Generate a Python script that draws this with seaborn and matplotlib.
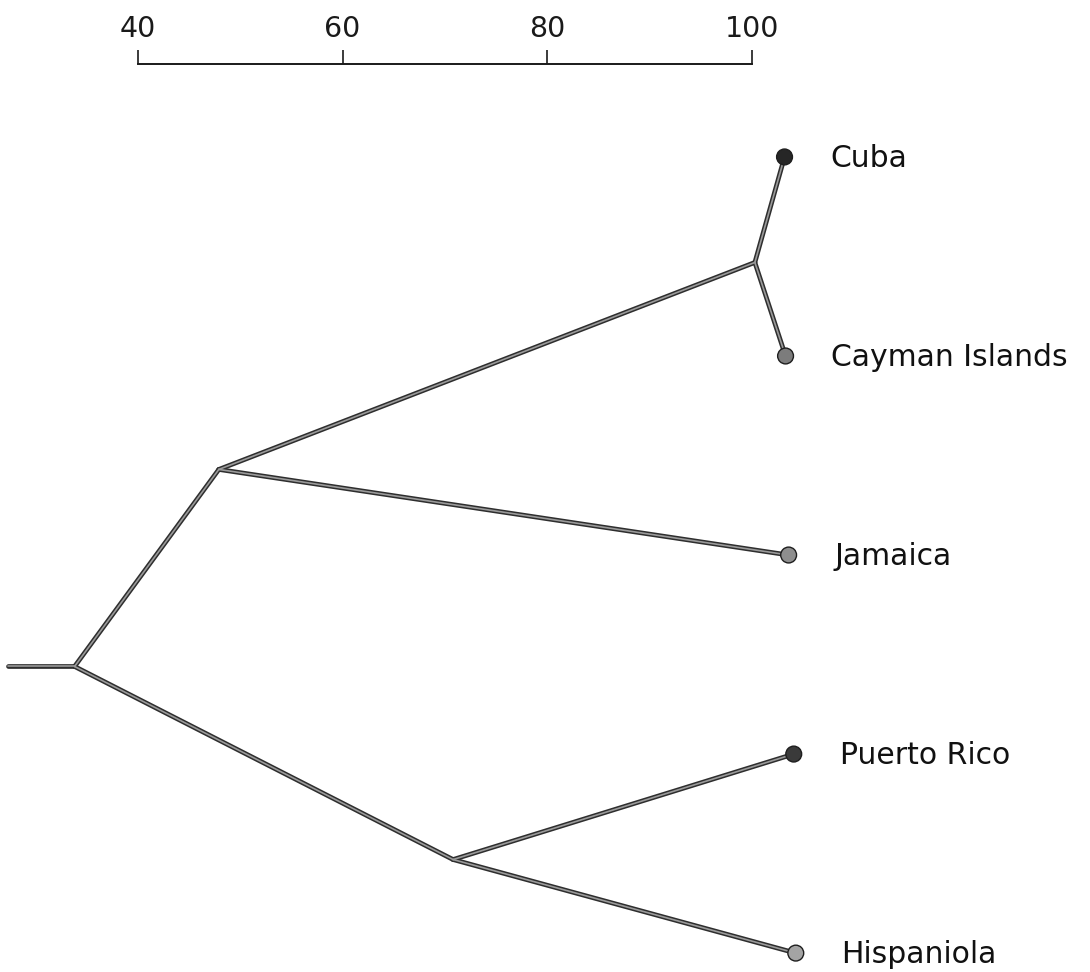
import matplotlib
matplotlib.use("Agg")
import matplotlib.pyplot as plt
import numpy as np
import pandas as pd
import seaborn as sns

# Leaves of the tree, top to bottom
taxa = ["Cuba", "Cayman Islands", "Jamaica", "Puerto Rico", "Hispaniola"]
tip_similarity = [103.2, 103.3, 103.6, 104.1, 104.3]
tip_row = [0.0, 1.0, 2.0, 3.0, 4.0]
tip_shade = ["#262626", "#7c7c7c", "#8e8e8e", "#3a3a3a", "#a4a4a4"]

# Internal nodes (clustering level and vertical position)
node_names = ["cuba_cayman", "western", "root", "pr_hisp"]
node_similarity = [100.3, 47.9, 33.8, 70.8]
node_row = [0.53, 1.57, 2.56, 3.53]
root_stub_start = 27.3

# Branches as (parent, child)
branches = [
    ("stub", "root"),
    ("root", "western"),
    ("root", "pr_hisp"),
    ("western", "cuba_cayman"),
    ("western", "Jamaica"),
    ("cuba_cayman", "Cuba"),
    ("cuba_cayman", "Cayman Islands"),
    ("pr_hisp", "Puerto Rico"),
    ("pr_hisp", "Hispaniola"),
]

scale_ticks = [40, 60, 80, 100]

# Coordinates lookup
pos = {n: (x, y) for n, x, y in zip(node_names, node_similarity, node_row)}
pos.update({t: (x, y) for t, x, y in zip(taxa, tip_similarity, tip_row)})
pos["stub"] = (root_stub_start, pos["root"][1])

rows = []
for i, (a, b) in enumerate(branches):
    for n in (a, b):
        rows.append({"branch": i, "x": pos[n][0], "y": pos[n][1]})
edges = pd.DataFrame(rows)

leaves = pd.DataFrame({"taxon": taxa, "x": tip_similarity, "y": tip_row})

sns.set_style("white")
plt.rcParams["font.family"] = ["DejaVu Sans"]

fig = plt.figure(figsize=(10.9, 9.72), dpi=100)
ax = fig.add_axes([0, 0, 1, (972 - 64) / 972])

# Branch strokes: dark outline with a lighter core
sns.lineplot(data=edges, x="x", y="y", units="branch", estimator=None,
             sort=False, color="#2e2e2e", lw=3.4, ax=ax, legend=False)
sns.lineplot(data=edges, x="x", y="y", units="branch", estimator=None,
             sort=False, color="#9a9a9a", lw=1.2, ax=ax, legend=False)

sns.scatterplot(data=leaves, x="x", y="y", hue="taxon",
                palette=dict(zip(taxa, tip_shade)), s=130,
                edgecolor="#1e1e1e", linewidth=1.0, ax=ax, legend=False,
                zorder=5)

for t, x, y in zip(taxa, tip_similarity, tip_row):
    ax.annotate(t, (x, y), xytext=(33, -1), textcoords="offset points",
                va="center", ha="left", fontsize=21.5, color="#111111")

ax.set_xlim(26.51, 133.06)
ax.set_ylim(4.095, -0.467)

# Similarity scale along the top
for s in ("left", "right", "bottom"):
    ax.spines[s].set_visible(False)
ax.spines["top"].set_bounds(scale_ticks[0], scale_ticks[-1])
ax.spines["top"].set_color("#1a1a1a")
ax.spines["top"].set_linewidth(1.4)
ax.xaxis.tick_top()
ax.set_xticks(scale_ticks)
ax.set_xticklabels([str(v) for v in scale_ticks])
ax.tick_params(axis="x", direction="out", length=10, width=1.2,
               pad=5, labelsize=20.5, colors="#1a1a1a")
ax.set_yticks([])
ax.set_xlabel("")
ax.set_ylabel("")

fig.savefig("out.png", dpi=100)
